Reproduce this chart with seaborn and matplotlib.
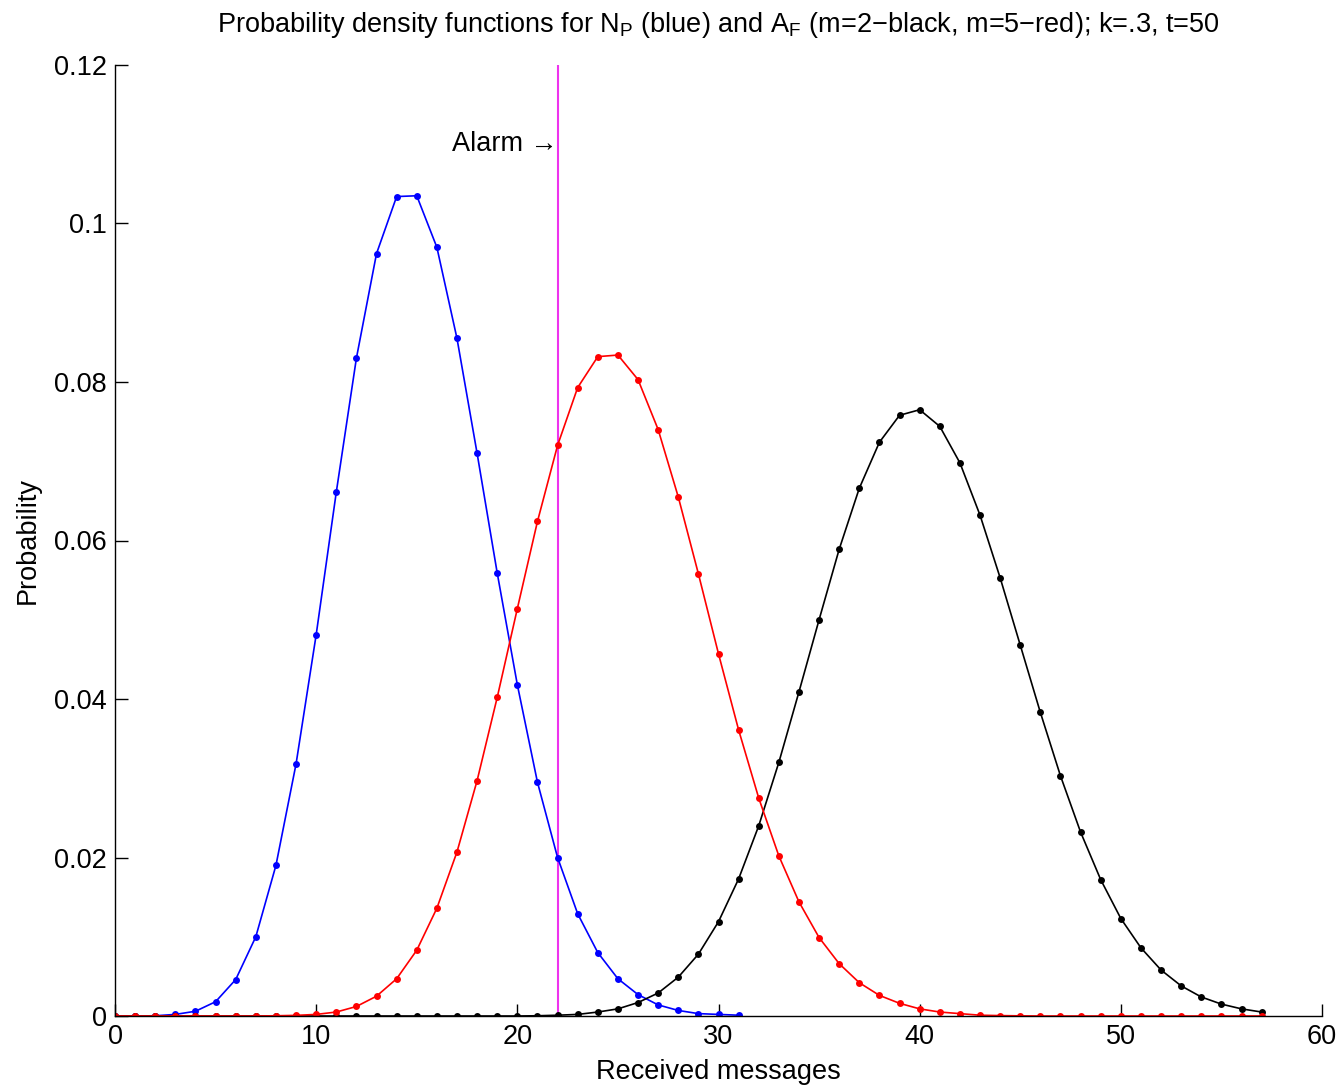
import matplotlib
matplotlib.use("Agg")
import matplotlib.pyplot as plt
import seaborn as sns
import pandas as pd
import numpy as np

# ---- data ----
blue_x = list(range(0, 32))
blue_y = [0.0, 0.0, 0.00003, 0.0002, 0.0006, 0.0018, 0.0046, 0.0100, 0.0190, 0.0318,
          0.0481, 0.0661, 0.0830, 0.0962, 0.1034, 0.1035, 0.0970, 0.0855, 0.0710, 0.0559,
          0.0418, 0.0295, 0.0200, 0.0129, 0.0080, 0.0047, 0.0027, 0.0014, 0.0007, 0.0003,
          0.0002, 0.0001]

red_x = list(range(0, 58))
red_y = [0.0, 0.0, 0.0, 0.0, 0.0, 0.0, 0.0, 0.0, 0.00003, 0.00008,
         0.0002, 0.0005, 0.0012, 0.0025, 0.0047, 0.0083, 0.0136, 0.0207, 0.0297, 0.0402,
         0.0514, 0.0624, 0.0720, 0.0793, 0.0832, 0.0834, 0.0803, 0.0740, 0.0655, 0.0558,
         0.0457, 0.0361, 0.0275, 0.0202, 0.0144, 0.0099, 0.0066, 0.0042, 0.0026, 0.0016,
         0.0009, 0.0005, 0.0003, 0.0001, 0.00005, 0.00002, 0.0, 0.0, 0.0, 0.0,
         0.0, 0.0, 0.0, 0.0, 0.0, 0.0, 0.0, 0.0]

black_x = list(range(0, 58))
black_y = [0.0] * 21 + [0.00003, 0.0001, 0.0002, 0.0005, 0.0009, 0.0017, 0.0029, 0.0049, 0.0078,
                       0.0119, 0.0173, 0.0240, 0.0320, 0.0409, 0.0500, 0.0589, 0.0666, 0.0724, 0.0758,
                       0.0765, 0.0744, 0.0698, 0.0632, 0.0553, 0.0468, 0.0383, 0.0303, 0.0232, 0.0172,
                       0.0123, 0.0086, 0.0058, 0.0038, 0.0024, 0.0015, 0.0009, 0.0005]

alarm_x = 22
x_ticks = [0, 10, 20, 30, 40, 50, 60]
y_ticks = [0, 0.02, 0.04, 0.06, 0.08, 0.1, 0.12]
y_tick_labels = ["0", "0.02", "0.04", "0.06", "0.08", "0.1", "0.12"]

# ---- plot ----
sns.set_style("ticks")
plt.rcParams['font.family'] = ['Liberation Sans', 'DejaVu Sans']
plt.rcParams['mathtext.fontset'] = 'custom'
plt.rcParams['mathtext.rm'] = 'Liberation Sans'
plt.rcParams['text.color'] = 'black'
plt.rcParams['axes.labelcolor'] = 'black'

FS = 19.5

fig = plt.figure(figsize=(13.42, 10.9), dpi=100)
ax = fig.add_axes([115/1342, 74/1090, (1322-115)/1342, (1016-65)/1090])

df_b = pd.DataFrame({"x": blue_x, "y": blue_y})
df_k = pd.DataFrame({"x": black_x, "y": black_y})
df_r = pd.DataFrame({"x": red_x, "y": red_y})

style = dict(marker="o", markersize=5, markeredgewidth=0, linewidth=1.2)
sns.lineplot(data=df_b, x="x", y="y", color="#0000ff", ax=ax, **style)
sns.lineplot(data=df_k, x="x", y="y", color="#000000", ax=ax, **style)
sns.lineplot(data=df_r, x="x", y="y", color="#ff0000", ax=ax, **style)

ax.axvline(alarm_x, color="#ee33ee", linewidth=1.5, zorder=1)
ax.text(alarm_x, 0.11, "Alarm \u2192", ha="right", va="center", fontsize=FS)

ax.set_xlim(0, 60)
ax.set_ylim(0, 0.12)
ax.set_xticks(x_ticks)
ax.set_xticklabels([str(v) for v in x_ticks])
ax.set_yticks(y_ticks)
ax.set_yticklabels(y_tick_labels)
ax.tick_params(direction="in", length=9, width=1, labelsize=FS, colors="black", pad=6)
for s in ["top", "right"]:
    ax.spines[s].set_visible(False)
for s in ["left", "bottom"]:
    ax.spines[s].set_color("black")
    ax.spines[s].set_linewidth(1)

ax.set_xlabel("Received messages", fontsize=FS, labelpad=6)
ax.set_ylabel("Probability", fontsize=FS, labelpad=9)
ax.set_title("Probability density functions for N$_\\mathregular{P}$ (blue) and A$_\\mathregular{F}$ (m=2\u2212black, m=5\u2212red); k=.3, t=50",
             fontsize=FS, pad=24)

fig.savefig("out.png", dpi=100)
